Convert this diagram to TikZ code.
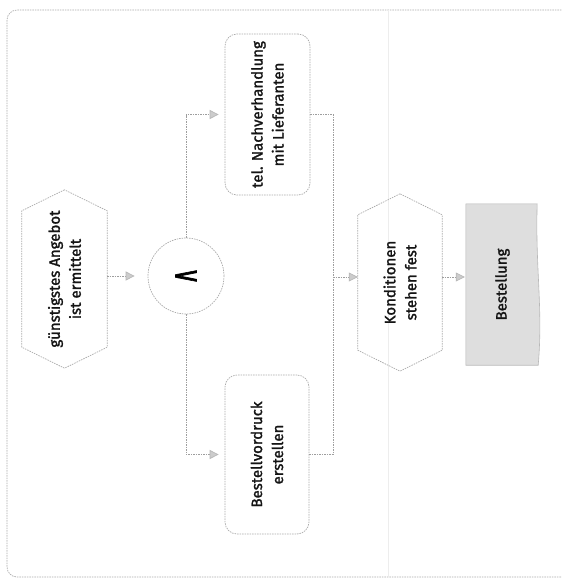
\documentclass[tikz,border=0pt]{standalone}
\usepackage{fontspec}
\setmainfont{Fira Sans}
\newfontfamily\lblfont{Fira Sans}[FakeBold=1.6]
\newfontfamily\opfont{DejaVu Sans}[FakeBold=2.5]
\usetikzlibrary{arrows.meta,calc}
\tikzset{
  edge/.style={draw=black!38, line width=0.7pt, dash pattern=on 1.5pt off 1pt},
  shapeline/.style={draw=black!33, line width=0.7pt, dash pattern=on 1.5pt off 1pt},
  arr/.style={edge, -{Triangle[length=9pt,width=9pt,color=black!28,fill=black!20]}},
  lbl/.style={rotate=90, align=center, font=\lblfont\fontsize{15}{21}\selectfont, text=black!92},
  hexbox/.style={minimum width=85pt, minimum height=178pt, inner sep=0pt},
  funbox/.style={shapeline, rounded corners=12pt, minimum width=85pt, minimum height=160pt, inner sep=0pt},
  docbox/.style={minimum width=73pt, minimum height=161pt, inner sep=0pt},
  andgate/.style={shapeline, circle, minimum size=76pt, inner sep=0pt},
}
\newcommand\hexoutline[2]{%
  \draw[shapeline] (#1.north) -- ([yshift=-#2]#1.north west) -- ([yshift=#2]#1.south west)
    -- (#1.south) -- ([yshift=#2]#1.south east) -- ([yshift=-#2]#1.north east) -- cycle;}
\begin{document}
\begin{tikzpicture}[x=1pt,y=-1pt]
\useasboundingbox (0,0) rectangle (562,582);
\fill[white] (0,0) rectangle (562,582);
\begin{scope}
\clip (0,0) rectangle (562,582);
\draw[shapeline, rounded corners=10pt] (7,10) rectangle (640,577);
\draw[draw=black!7, line width=0.6pt] (388,10) -- (388,577);
\end{scope}

% events
\node[hexbox] (e1) at (64.5,279) {};
\hexoutline{e1}{21pt}
\node[lbl] (e1t) at (e1) {günstigstes Angebot\\ist ermittelt};

\node[hexbox, minimum width=84pt, minimum height=177pt] (e2) at (400,282.5) {};
\hexoutline{e2}{21pt}
\node[lbl] (e2t) at (e2) {Konditionen\\stehen fest};

% connector
\node[andgate] (c) at (186,276) {};
\node[rotate=90, xscale=0.95, yscale=1.5, inner sep=0pt, font=\opfont\fontsize{24}{24}\selectfont] (ct) at (c) {∧};

% functions
\node[funbox, minimum width=85pt, minimum height=161pt] (f1) at (267.5,114.5) {};
\node[lbl] (f1t) at (f1) {tel. Nachverhandlung\\mit Lieferanten};
\node[funbox, minimum width=84pt, minimum height=159pt] (f2) at (267,454.5) {};
\node[lbl] (f2t) at (f2) {Bestellvordruck\\erstellen};

% document
\node[docbox] (doc) at (502.5,284.5) {};
\path[fill=black!13, draw=black!28, line width=0.6pt]
  (doc.north west) -- ([xshift=-2pt]doc.north east)
  .. controls ([xshift=-4pt]$(doc.north east)!0.4!(doc.south east)$)
  and ([xshift=4pt]$(doc.north east)!0.65!(doc.south east)$) .. ([xshift=-1pt]doc.south east)
  -- (doc.south west) -- cycle;
\node[lbl] (doct) at (doc) {Bestellung};

% connectors
\coordinate (j) at (333,277);
\draw[arr, shorten >=13pt] (e1.east |- c) -- (c.west);
\draw[arr, shorten >=6pt] (c.north) |- (f1.west);
\draw[arr, shorten >=6pt] (c.south) |- (f2.west);
\draw[edge] (f1.east) -| (j);
\draw[edge] (f2.east) -| (j);
\draw[arr] (j) -- (e2.west |- j);
\draw[arr, shorten >=1pt] (e2.east |- j) -- (doc.west |- j);
\end{tikzpicture}
\end{document}
